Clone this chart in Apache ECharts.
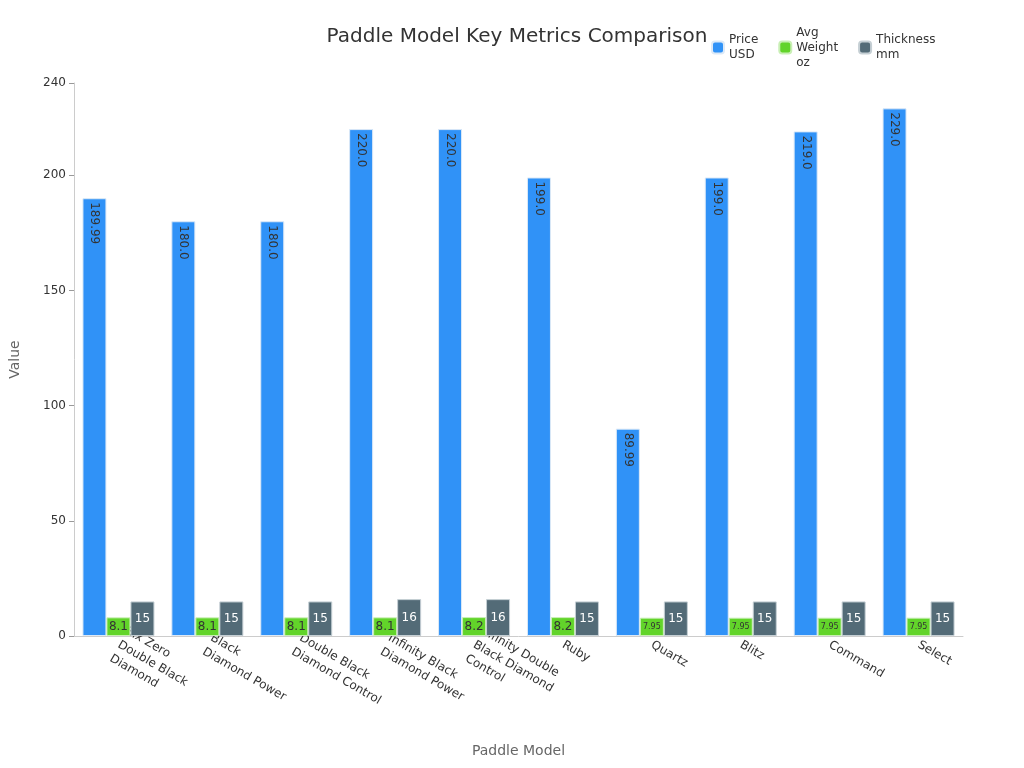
<!DOCTYPE html><html><head><meta charset="utf-8"><script src="https://cdn.jsdelivr.net/npm/echarts@6/dist/echarts.min.js"></script></head><body style="margin:0"><div id="c" style="width:1024px;height:768px"></div><script>
const categories=["Six Zero\nDouble Black\nDiamond","Black\nDiamond Power","Double Black\nDiamond Control","Infinity Black\nDiamond Power","Infinity Double\nBlack Diamond\nControl","Ruby","Quartz","Blitz","Command","Select"];
const price=[189.99,180.0,180.0,220.0,220.0,199.0,89.99,199.0,219.0,229.0];
const weight=[8.1,8.1,8.1,8.1,8.2,8.2,7.95,7.95,7.95,7.95];
const thickness=[15,15,15,16,16,15,15,15,15,15];
const F='DejaVu Sans';
const fmt1=v=>Number.isInteger(v)?v.toFixed(1):String(v);
const c=echarts.init(document.getElementById('c'));
c.setOption({textStyle:{fontFamily:F},
title:{text:'Paddle Model Key Metrics Comparison',left:512,top:22,textAlign:'center',textStyle:{fontFamily:F,fontSize:20,fontWeight:'normal',color:'#333'}},
legend:{left:706,top:20,itemWidth:12,itemHeight:12,itemGap:20,textStyle:{fontFamily:F,fontSize:12,color:'#333',lineHeight:15,verticalAlign:'top'},data:['Price\nUSD','Avg\nWeight\noz','Thickness\nmm'],formatter:n=>n},
grid:{left:68,right:61,top:83,bottom:132},
xAxis:{type:'category',data:categories,name:'Paddle Model',nameLocation:'middle',nameGap:108,nameTextStyle:{fontSize:14,color:'#666'},axisLine:{lineStyle:{color:'#ccc'}},axisTick:{alignWithLabel:true,lineStyle:{color:'#999'}},axisLabel:{rotate:-30,interval:0,fontSize:12,color:'#333',lineHeight:16}},
yAxis:{type:'value',min:0,max:240,interval:50,name:'Value',nameLocation:'middle',nameGap:52,nameTextStyle:{fontSize:14,color:'#666'},axisLine:{show:true,lineStyle:{color:'#ccc'}},axisTick:{show:true,lineStyle:{color:'#999'}},splitLine:{show:false},axisLabel:{fontSize:12,color:'#333'}},
series:[
{name:'Price\nUSD',type:'bar',data:price,barWidth:24,barGap:'0%',itemStyle:{color:'#3092f7',borderColor:'#dce9f7',borderWidth:1},label:{show:true,position:'insideTop',rotate:-90,align:'left',verticalAlign:'middle',offset:[0,0],distance:4,color:'#333',fontSize:12,formatter:p=>fmt1(p.value)}},
{name:'Avg\nWeight\noz',type:'bar',data:weight,barWidth:24,itemStyle:{color:'#62d42a',borderColor:'#c9efb5',borderWidth:1},label:{show:true,position:'inside',color:'#333',formatter:p=>String(p.value),fontSize:12,rich:{}},labelLayout:null},
{name:'Thickness\nmm',type:'bar',data:thickness,barWidth:24,itemStyle:{color:'#536b77',borderColor:'#c5cfd4',borderWidth:1},label:{show:true,position:'inside',color:'#fff',fontSize:12}}
]});
const o=c.getOption();
o.series[1].data=weight.map(v=>({value:v,label:{fontSize:String(v).length>3?8:12}}));
c.setOption({series:o.series});
</script></body></html>
